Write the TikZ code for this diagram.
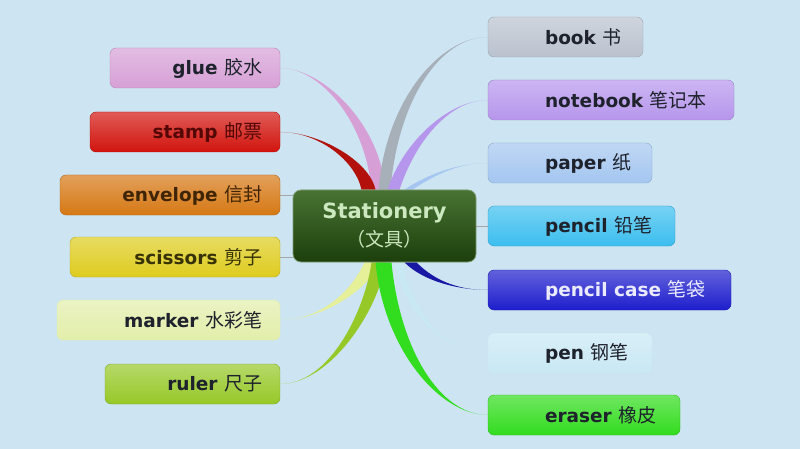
\documentclass[tikz,border=0pt]{standalone}
\usepackage{fontspec}
\setmainfont{DejaVu Sans}
\newfontfamily\cjk{Noto Sans CJK SC}
\usetikzlibrary{calc}
\pgfdeclarelayer{bglayer}
\pgfdeclarelayer{branches}
\pgfsetlayers{bglayer,branches,main}

\definecolor{bgc}{RGB}{205,228,242}
\definecolor{cglue}{RGB}{214,160,214}
\definecolor{cstamp}{RGB}{210,20,14}
\definecolor{cenv}{RGB}{214,120,20}
\definecolor{csci}{RGB}{222,204,30}
\definecolor{cmark}{RGB}{226,238,170}
\definecolor{cruler}{RGB}{150,200,40}
\definecolor{cbook}{RGB}{186,194,206}
\definecolor{cnote}{RGB}{182,150,236}
\definecolor{cpaper}{RGB}{164,198,240}
\definecolor{cpencil}{RGB}{60,190,238}
\definecolor{cpcase}{RGB}{30,30,205}
\definecolor{cpen}{RGB}{200,232,244}
\definecolor{ceraser}{RGB}{50,220,30}
\definecolor{ccenter}{RGB}{40,90,16}
\definecolor{ctext}{RGB}{30,34,44}
\definecolor{ccentertext}{RGB}{204,232,190}

\newcommand\lblfont{\fontsize{18.5}{20}\selectfont\bfseries}
\newcommand\zh[1]{{\cjk\mdseries\fontsize{19}{20}\selectfont #1}}
% tapered branch: colour, start, control1, control2, end, half width
\newcommand\branch[6]{%
  \fill[#1] ($#2+(-#6,0)$) .. controls ($#3+(-#6,0)$) and #4 .. #5
    .. controls #4 and ($#3+(#6,0)$) .. ($#2+(#6,0)$) -- cycle;}

\tikzset{
  box/.style={rounded corners=6pt, minimum height=40pt, inner sep=0pt,
    draw=#1!85!black, line width=0.4pt, top color=#1!70!white, bottom color=#1},
  lbl/.style={inner sep=0pt, text=ctext, font=\lblfont},
  thin/.style={draw=gray!70, line width=0.6pt},
}

\begin{document}
\begin{tikzpicture}[x=1pt,y=-1pt]
\begin{pgfonlayer}{bglayer}
\fill[bgc] (0,0) rectangle (800,449);
\end{pgfonlayer}
\useasboundingbox (0,0) rectangle (800,449);

% centre
\node[rounded corners=8pt, minimum width=183pt, minimum height=72pt, inner sep=0pt,
  draw=ccenter!60!white, line width=0.8pt, top color=ccenter!85!white, bottom color=ccenter!70!black]
  (center) at (384.5,226) {};
\node[inner sep=0pt, text=ccentertext, font=\fontsize{21}{22}\selectfont\bfseries]
  (center-en) at (384.5,213) {Stationery};
\node[inner sep=0pt, text=ccentertext] (center-zh) at (384.5,239) {\zh{（文具）}};

% left boxes (right edge 280)
\node[box=cglue, minimum width=170pt] (glue) at (195,68) {};
\node[lbl, anchor=east] (glue-t) at ([xshift=-18pt]glue.east) {glue \zh{胶水}};
\node[box=cstamp, minimum width=190pt] (stamp) at (185,132) {};
\node[lbl, anchor=east, text=cstamp!40!black] (stamp-t) at ([xshift=-18pt]stamp.east) {stamp \zh{邮票}};
\node[box=cenv, minimum width=220pt] (env) at (170,195) {};
\node[lbl, anchor=east, text=cenv!30!black] (env-t) at ([xshift=-18pt]env.east) {envelope \zh{信封}};
\node[box=csci, minimum width=210pt] (sci) at (175,257) {};
\node[lbl, anchor=east, text=csci!25!black] (sci-t) at ([xshift=-18pt]sci.east) {scissors \zh{剪子}};
\node[box=cmark, minimum width=223pt, draw=cmark] (mark) at (168.5,320) {};
\node[lbl, anchor=east] (mark-t) at ([xshift=-18pt]mark.east) {marker \zh{水彩笔}};
\node[box=cruler, minimum width=175pt] (ruler) at (192.5,384) {};
\node[lbl, anchor=east] (ruler-t) at ([xshift=-18pt]ruler.east) {ruler \zh{尺子}};

% right boxes (left edge 488)
\node[box=cbook, minimum width=155pt] (book) at (565.5,37) {};
\node[lbl, anchor=west] (book-t) at ([xshift=57pt]book.west) {book \zh{书}};
\node[box=cnote, minimum width=246pt] (note) at (611,100) {};
\node[lbl, anchor=west] (note-t) at ([xshift=57pt]note.west) {notebook \zh{笔记本}};
\node[box=cpaper, minimum width=164pt] (paper) at (570,163) {};
\node[lbl, anchor=west] (paper-t) at ([xshift=57pt]paper.west) {paper \zh{纸}};
\node[box=cpencil, minimum width=187pt] (pencil) at (581.5,226) {};
\node[lbl, anchor=west] (pencil-t) at ([xshift=57pt]pencil.west) {pencil \zh{铅笔}};
\node[box=cpcase, minimum width=243pt] (pcase) at (609.5,290) {};
\node[lbl, anchor=west, text=blue!8!white] (pcase-t) at ([xshift=57pt]pcase.west) {pencil case \zh{笔袋}};
\node[box=cpen, minimum width=164pt, draw=cpen] (pen) at (570,353) {};
\node[lbl, anchor=west] (pen-t) at ([xshift=57pt]pen.west) {pen \zh{钢笔}};
\node[box=ceraser, minimum width=192pt] (eraser) at (584,415) {};
\node[lbl, anchor=west] (eraser-t) at ([xshift=57pt]eraser.west) {eraser \zh{橡皮}};

% branches
\begin{pgfonlayer}{branches}
\coordinate (sglue) at ([xshift=-6pt]center.north);
\coordinate (sstamp) at ([xshift=-16pt]center.north);
\coordinate (sbook) at ([xshift=0pt]center.north);
\coordinate (snote) at ([xshift=9pt]center.north);
\coordinate (spaper) at ([xshift=24pt]center.north);
\coordinate (smark) at ([xshift=-12pt]center.south);
\coordinate (sruler) at ([xshift=-6pt]center.south);
\coordinate (seraser) at ([xshift=-1pt]center.south);
\coordinate (spen) at ([xshift=14pt]center.south);
\coordinate (spcase) at ([xshift=26pt]center.south);

\branch{cglue}{(sglue)}{(372,120)}{(320,68)}{(glue.east)}{7}
\branch{cstamp!85!black}{(sstamp)}{(362,160)}{(318,132)}{(stamp.east)}{7}
\branch{cbook!90!black}{(sbook)}{(392,100)}{(440,37)}{(book.west)}{6}
\branch{cnote}{(snote)}{(410,140)}{(450,100)}{(note.west)}{6}
\branch{cpaper}{(spaper)}{(435,172)}{(462,163)}{(paper.west)}{4}
\branch{cmark!90!yellow}{(smark)}{(360,290)}{(322,320)}{(mark.east)}{8}
\branch{cruler}{(sruler)}{(372,310)}{(330,384)}{(ruler.east)}{7}
\branch{ceraser}{(seraser)}{(392,350)}{(440,415)}{(eraser.west)}{8}
\branch{cpen}{(spen)}{(410,320)}{(450,353)}{(pen.west)}{4}
\branch{cpcase!80!black}{(spcase)}{(430,282)}{(460,290)}{(pcase.west)}{6}

\draw[thin] (env.east) -- (env.east -| center.west);
\draw[thin] (sci.east) -- (sci.east -| center.west);
\draw[thin] (center.east) -- (pencil.west);
\end{pgfonlayer}
\end{tikzpicture}
\end{document}
